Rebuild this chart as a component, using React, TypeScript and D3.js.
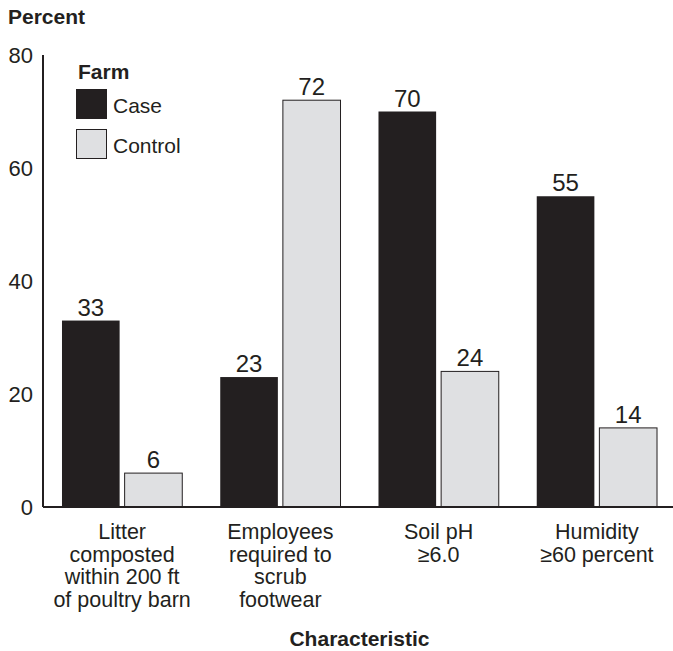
import { useMemo } from 'react'
import * as d3 from 'd3'

const categories = ['litter', 'employees', 'soil', 'humidity']
const categoryLabels = [
  ['Litter', 'composted', 'within 200 ft', 'of poultry barn'],
  ['Employees', 'required to', 'scrub', 'footwear'],
  ['Soil pH', '≥6.0'],
  ['Humidity', '≥60 percent'],
]
const series = ['Case', 'Control']
const caseValues = [33, 23, 70, 55]
const controlValues = [6, 72, 24, 14]
const yTicks = [0, 20, 40, 60, 80]

const W = 673
const H = 651
const ink = '#231f20'
const colors: Record<string, string> = { Case: '#231f20', Control: '#dfe0e2' }
const font = '"Liberation Sans", Arial, Helvetica, sans-serif'

export default function App() {
  const margin = { top: 55, right: -3, bottom: 144, left: 43 }
  const baseY = H - margin.bottom

  const { x0, x1, y } = useMemo(() => {
    const x0 = d3.scaleBand<string>().domain(categories).range([margin.left, W - margin.right]).paddingInner(0.24).paddingOuter(0.12)
    const x1 = d3.scaleBand<string>().domain(series).range([0, x0.bandwidth()]).paddingInner(0.08)
    const y = d3.scaleLinear().domain([0, 80]).range([baseY, margin.top])
    return { x0, x1, y }
  }, [])

  const valuesFor = (s: string) => (s === 'Case' ? caseValues : controlValues)

  return (
    <svg width={W} height={H} style={{ position: 'absolute', left: 0, top: 0, background: '#fff' }} fontFamily={font} fill={ink}>
      <text x={8} y={24} fontSize={21} fontWeight="bold">Percent</text>

      {/* y axis */}
      {yTicks.map(t => (
        <text key={t} x={33} y={y(t)} dy="0.38em" textAnchor="end" fontSize={22}>{t}</text>
      ))}

      {/* bars */}
      {categories.map((c, i) => (
        <g key={c} transform={`translate(${x0(c)},0)`}>
          {series.map(s => {
            const v = valuesFor(s)[i]
            const bx = x1(s) ?? 0
            return (
              <g key={s}>
                <rect
                  x={bx}
                  y={y(v)}
                  width={x1.bandwidth()}
                  height={baseY - y(v)}
                  fill={colors[s]}
                  stroke={s === 'Control' ? ink : 'none'}
                  strokeWidth={1}
                />
                <text x={bx + x1.bandwidth() / 2} y={y(v) - 5} textAnchor="middle" fontSize={24}>{v}</text>
              </g>
            )
          })}
        </g>
      ))}

      <line x1={margin.left} x2={margin.left} y1={margin.top} y2={baseY} stroke={ink} strokeWidth={2} />
      <line x1={margin.left} x2={W} y1={baseY} y2={baseY} stroke={ink} strokeWidth={2} />

      {/* category labels */}
      {categories.map((c, i) => (
        <text key={c} x={(x0(c) ?? 0) + x0.bandwidth() / 2} y={539} textAnchor="middle" fontSize={21.5}>
          {categoryLabels[i].map((l, j) => (
            <tspan key={j} x={(x0(c) ?? 0) + x0.bandwidth() / 2} dy={j === 0 ? 0 : 22.5}>{l}</tspan>
          ))}
        </text>
      ))}

      <text x={(margin.left + W - margin.right) / 2} y={646} textAnchor="middle" fontSize={21} fontWeight="bold">Characteristic</text>

      {/* legend */}
      <text x={78} y={79} fontSize={21} fontWeight="bold">Farm</text>
      {series.map((s, i) => (
        <g key={s} transform={`translate(76,${89 + i * 40})`}>
          <rect x={0.5} y={0.5} width={30} height={29} fill={colors[s]} stroke={ink} strokeWidth={1} />
          <text x={37} y={24} fontSize={21}>{s}</text>
        </g>
      ))}
    </svg>
  )
}
